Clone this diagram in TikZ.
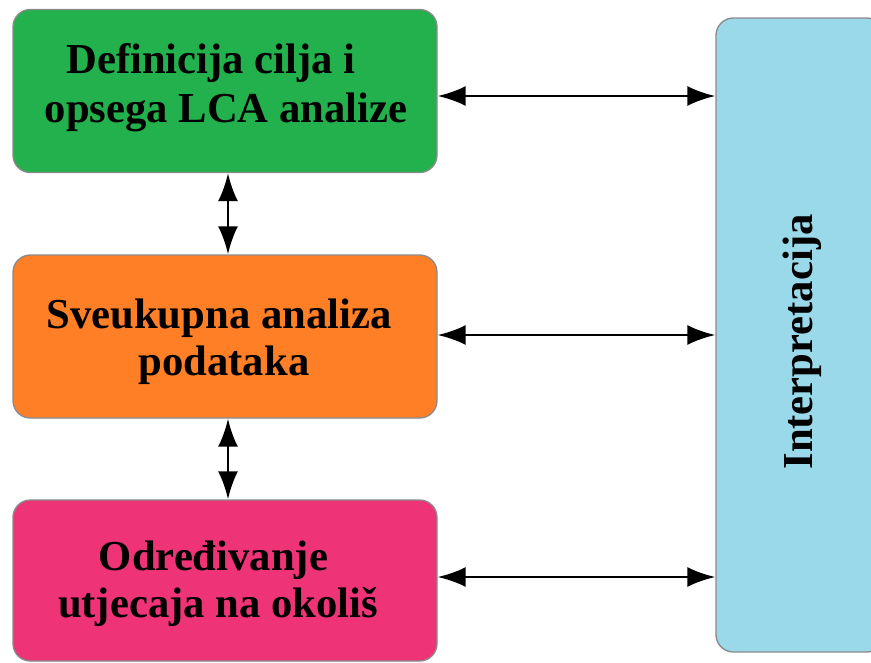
\documentclass[tikz,border=0pt]{standalone}
\usepackage{fontspec}
\setmainfont{Liberation Serif}
\usetikzlibrary{arrows.meta}
\definecolor{cgreen}{HTML}{22B14C}
\definecolor{corange}{HTML}{FF7F27}
\definecolor{cpink}{HTML}{EE3377}
\definecolor{cblue}{HTML}{99D9EA}
\definecolor{cedge}{HTML}{8A8A8A}
\begin{document}
\begin{tikzpicture}[x=0.75pt,y=-0.75pt,
  box/.style={draw=cedge,line width=1pt,rounded corners=13pt,inner sep=0pt},
  lbl/.style={font=\fontsize{32}{36}\selectfont\bfseries,inner sep=0pt,anchor=base},
  link/.style={line width=2pt,{Latex[length=21pt,width=15pt]}-{Latex[length=21pt,width=15pt]}}]
\useasboundingbox (0,0) rectangle (871,662);
\begin{scope}
\clip (0,0) rectangle (871,662);
\node[box,fill=cgreen,minimum width=424pt*0.75,minimum height=163pt*0.75] (a) at (225,91) {};
\node[lbl] (a1) at (211,73) {Definicija cilja i};
\node[lbl] (a2) at (226,122) {opsega LCA analize};
\node[box,fill=corange,minimum width=424pt*0.75,minimum height=163pt*0.75] (b) at (225,336.5) {};
\node[lbl] (b1) at (219,328) {Sveukupna analiza};
\node[lbl] (b2) at (224,375) {podataka};
\node[box,fill=cpink,minimum width=424pt*0.75,minimum height=161pt*0.75] (c) at (225,580.5) {};
\node[lbl] (c1) at (213.5,570) {Određivanje};
\node[lbl] (c2) at (218,617) {utjecaja na okoliš};
\node[box,fill=cblue,minimum width=168pt*0.75,minimum height=634pt*0.75] (d) at (800,335) {};
\node[lbl,rotate=90] (dt) at (812,342) {Interpretacija};
\end{scope}
\draw[link] (a.south -| 228,0) -- (b.north -| 228,0);
\draw[link] (b.south -| 228,0) -- (c.north -| 228,0);
\draw[link] (a.east |- 0,96) -- (d.west |- 0,96);
\draw[link] (b.east |- 0,335) -- (d.west |- 0,335);
\draw[link] (c.east |- 0,577) -- (d.west |- 0,577);
\end{tikzpicture}
\end{document}
